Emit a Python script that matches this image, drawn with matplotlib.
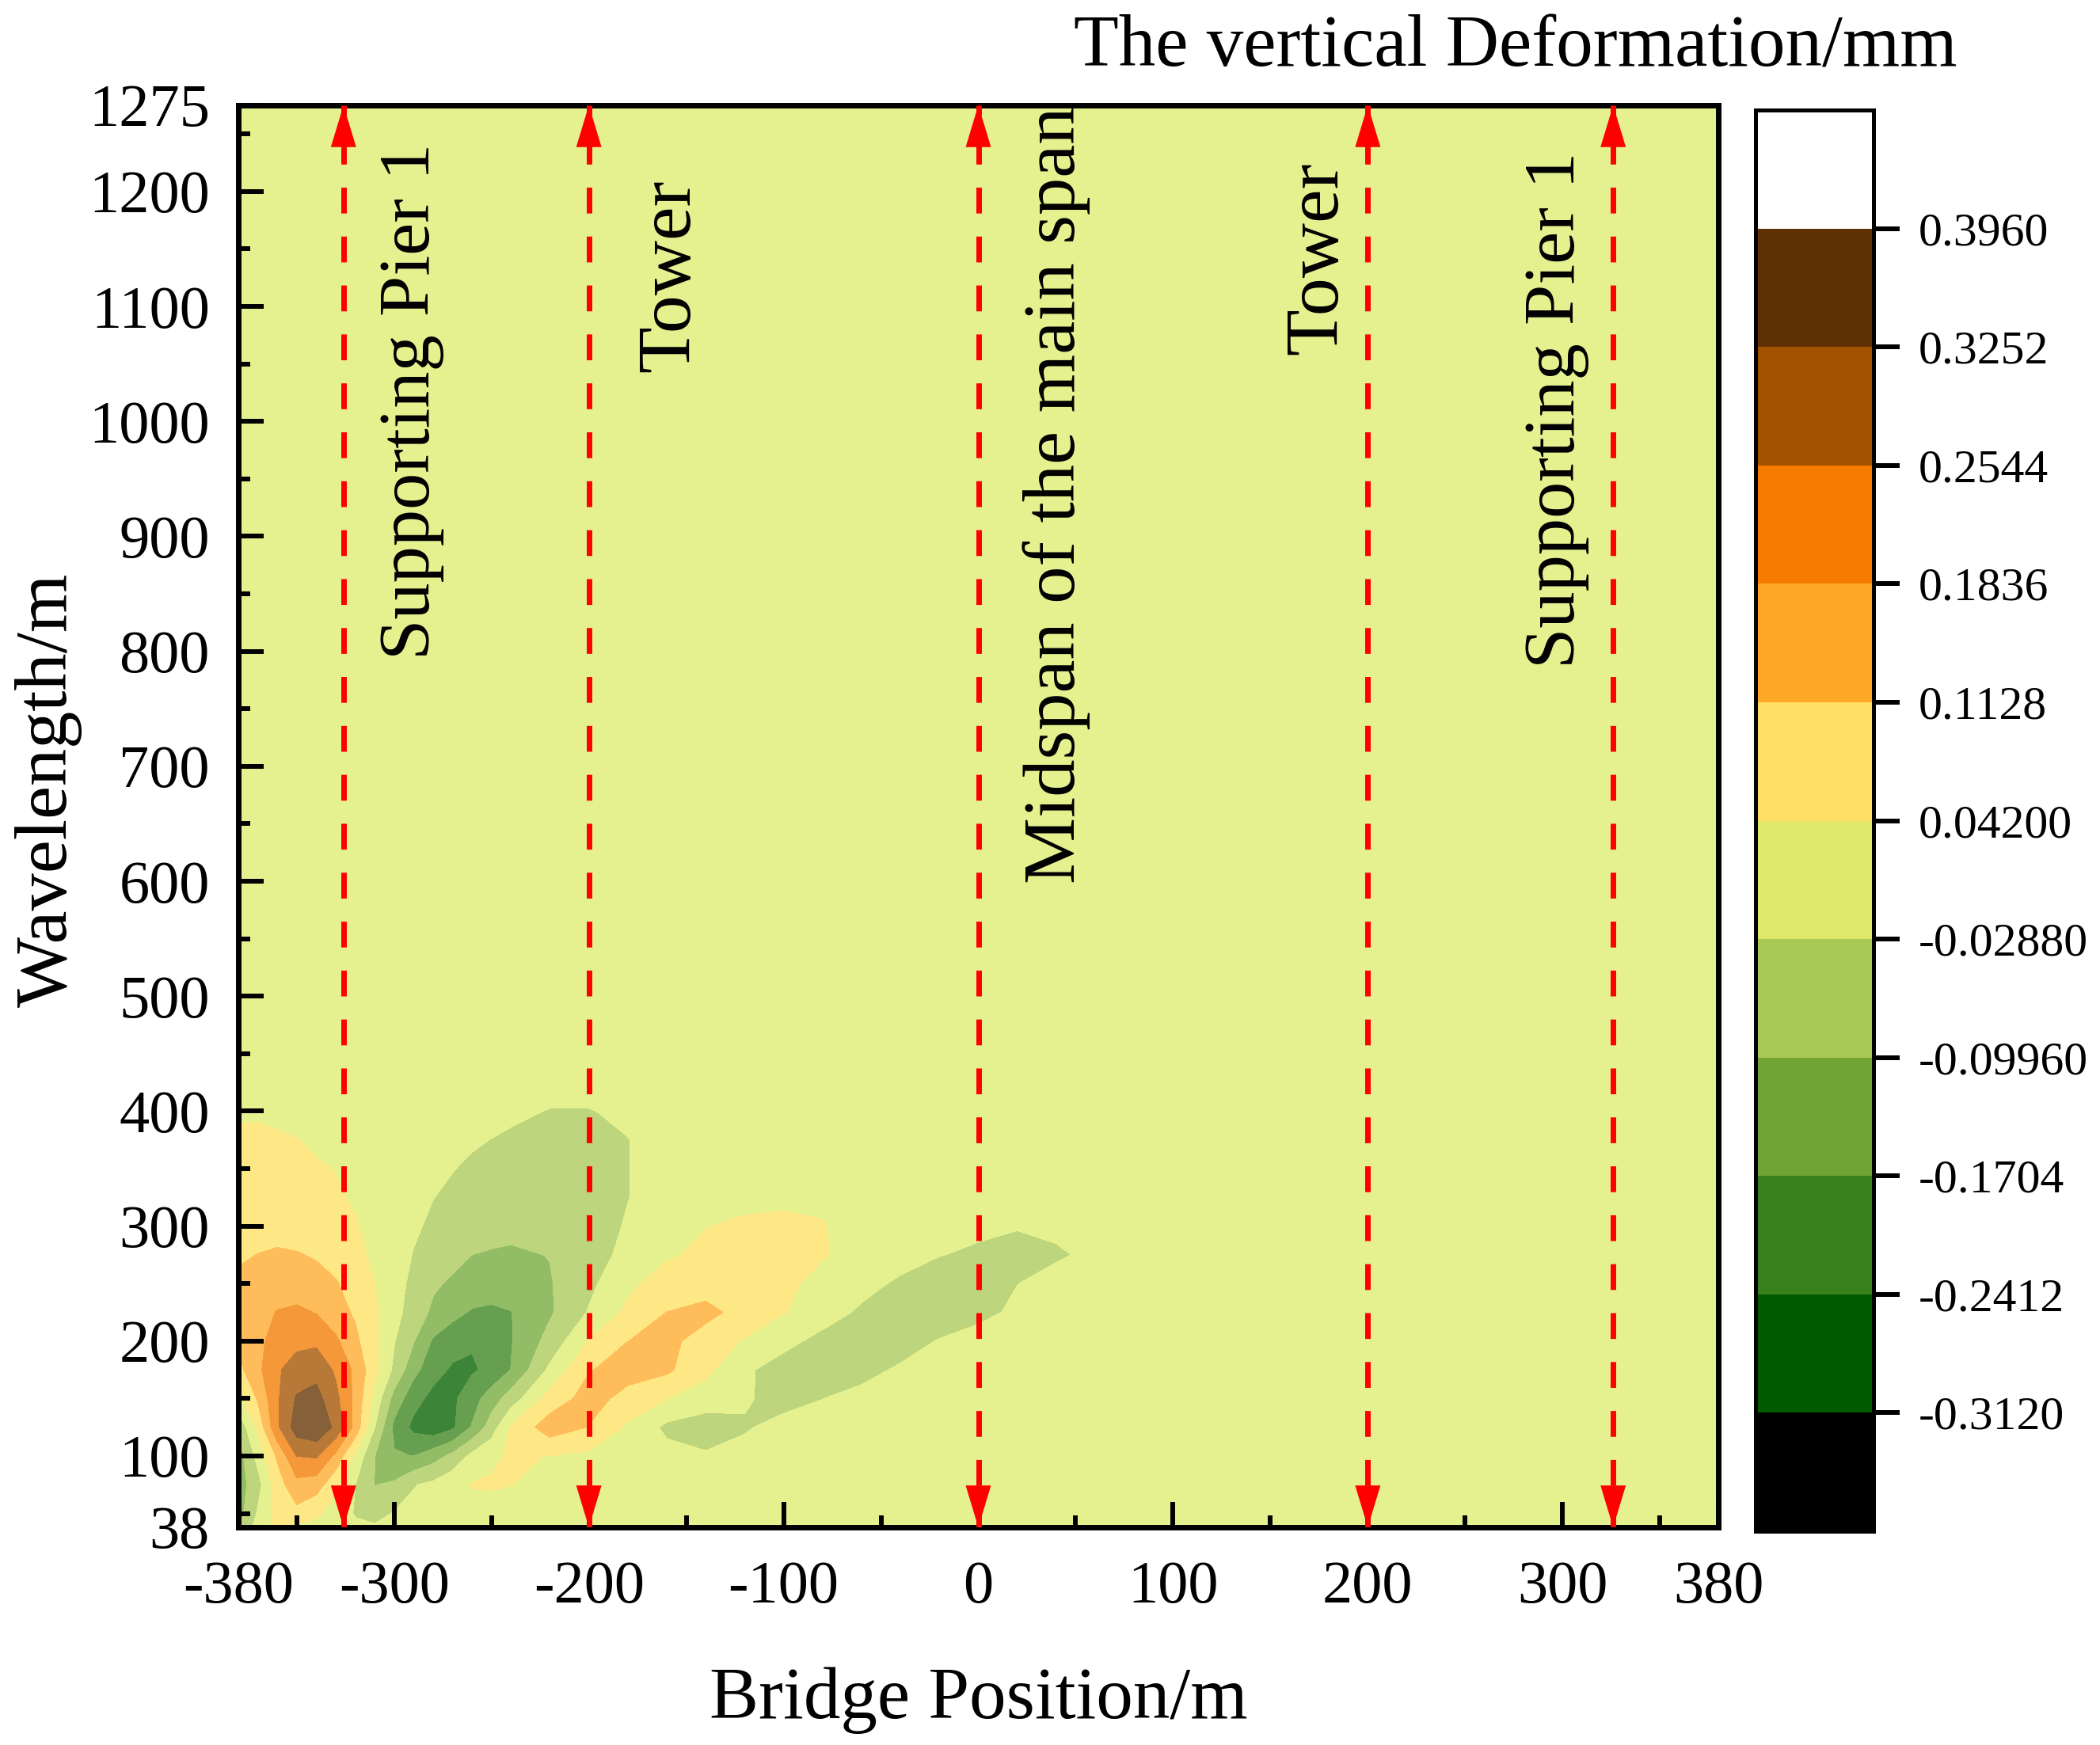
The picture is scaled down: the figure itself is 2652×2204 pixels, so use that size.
import numpy as np
import matplotlib
matplotlib.use("Agg")
import matplotlib.pyplot as plt
from matplotlib.colors import ListedColormap, BoundaryNorm
from matplotlib.cm import ScalarMappable

plt.rcParams['font.family'] = ['Liberation Serif', 'DejaVu Serif']

W, H = 2652, 2204

# bridge position of the table columns (m)
pos = [-380, -370, -360, -350, -340, -330, -320, -310, -300, -290, -280, -270, -260, -250, -240,
       -220, -200, -180, -160, -140, -120, -100, -80, -60, -40, -20, 0, 20, 40, 60, 380]
# wavelength of the table rows (m)
wavelength = [38, 50, 75, 100, 125, 150, 175, 200, 225, 250, 275, 300, 325, 350, 375, 400, 425, 1275]

# deformation, one list per wavelength
z38 = [-.11, 0, .06, .03, .02, .01, -.015, -.02, -.01, 0, 0, 0, 0, 0, 0,
       0, 0, 0, 0, 0, 0, 0, 0, 0, 0, 0, 0, 0, 0, 0, 0]
z50 = [-.13, -.022, .07, .09, .052, .012, -.035, -.055, -.025, -.01, 0, .015, .02, .01, .005,
       0, 0, 0, 0, 0, 0, 0, 0, 0, 0, 0, 0, 0, 0, 0, 0]
z75 = [-.135, -.057, .08, .16, .145, .056, -.029, -.102, -.09, -.033, -.015, .02, .045, .05, .043,
       .025, .01, 0, 0, 0, 0, 0, 0, 0, 0, 0, 0, 0, 0, 0, 0]
z100 = [-.135, -.007, .121, .254, .262, .164, .024, -.0996, -.164, -.172, -.132, -.082, -.012, .028, .05,
        .04, .025, .015, -.005, -.02, -.01, 0, 0, 0, 0, 0, 0, 0, 0, 0, 0]
z125 = [-.09, .058, .239, .36, .385, .307, .157, -.029, -.19, -.26, -.29, -.255, -.165, -.067, .05,
        .15, .109, .03, -.045, -.07, -.035, -.01, 0, 0, 0, 0, 0, 0, 0, 0, 0]
z150 = [.02, .118, .244, .332, .35, .272, .163, .018, -.128, -.217, -.262, -.255, -.202, -.135, -.068,
        .07, .14, .089, .042, .01, -.022, -.05, -.03, -.01, 0, 0, 0, 0, 0, 0, 0]
z175 = [.09, .166, .245, .285, .30, .243, .168, .062, -.045, -.149, -.216, -.252, -.25, -.225, -.17,
        -.015, .108, .14, .125, .058, -.018, -.06, -.075, -.05, -.02, 0, 0, 0, 0, 0, 0]
z200 = [.125, .17, .205, .235, .24, .195, .128, .056, -.026, -.097, -.18, -.21, -.235, -.225, -.175,
        -.076, .045, .112, .13, .084, .035, -.009, -.05, -.075, -.06, -.025, 0, 0, 0, 0, 0]
z225 = [.14, .16, .186, .195, .18, .14, .103, .052, -.005, -.063, -.113, -.152, -.178, -.185, -.173,
        -.109, -.024, .056, .113, .13, .09, .045, .002, -.04, -.07, -.075, -.05, -.015, 0, 0, 0]
z250 = [.13, .14, .15, .15, .14, .118, .08, .042, -.002, -.047, -.09, -.11, -.125, -.135, -.13,
        -.105, -.046, .027, .07, .085, .08, .055, .024, -.008, -.04, -.065, -.06, -.03, -.01, 0, 0]
z275 = [.10, .114, .122, .117, .105, .085, .055, .032, 0, -.032, -.055, -.08, -.10, -.105, -.108,
        -.098, -.056, -.012, .034, .055, .06, .055, .046, .023, -.003, -.027, -.04, -.045, -.036, -.018, 0]
z300 = [.07, .08, .085, .08, .07, .058, .045, .03, .012, -.02, -.04, -.055, -.07, -.08, -.085,
        -.075, -.05, -.025, .01, .04, .052, .05, .044, .025, .01, 0, -.015, -.026, -.018, 0, 0]
z325 = [.06, .065, .065, .06, .052, .046, .038, .025, .01, -.005, -.028, -.04, -.05, -.055, -.06,
        -.06, -.05, -.03, -.01, .01, .025, .035, .035, .02, .01, 0, 0, 0, 0, 0, 0]
z350 = [.052, .056, .055, .05, .046, .041, .03, .02, .01, 0, -.015, -.027, -.038, -.045, -.05,
        -.05, -.045, -.03, -.012, 0, 0, 0, 0, 0, 0, 0, 0, 0, 0, 0, 0]
z375 = [.05, .05, .047, .043, .035, .025, .015, .01, .005, 0, -.005, -.012, -.022, -.03, -.036,
        -.042, -.04, -.03, -.012, 0, 0, 0, 0, 0, 0, 0, 0, 0, 0, 0, 0]
z400 = [.037, .037, .033, .02, .015, .01, .005, 0, 0, 0, 0, 0, -.005, -.01, -.02,
        -.031, -.031, -.02, -.005, 0, 0, 0, 0, 0, 0, 0, 0, 0, 0, 0, 0]
z425 = [0, 0, 0, 0, 0, 0, 0, 0, 0, 0, 0, 0, 0, 0, -.005,
        -.01, -.01, -.005, 0, 0, 0, 0, 0, 0, 0, 0, 0, 0, 0, 0, 0]
z1275 = [0] * 31

levels = [-0.3120, -0.2412, -0.1704, -0.0996, -0.0288, 0.0420, 0.1128, 0.1836, 0.2544, 0.3252, 0.3960]
level_labels = ['-0.3120', '-0.2412', '-0.1704', '-0.09960', '-0.02880', '0.04200',
                '0.1128', '0.1836', '0.2544', '0.3252', '0.3960']
bar_colors = ['#005a00', '#38801c', '#70a536', '#a8c956', '#e0e86a', '#ffdf66',
              '#ffa726', '#f57c00', '#a35200', '#5f3003']
# the map itself is drawn half see-through, so its bands are paler than the bar
map_colors = ['#3b8438', '#669f50', '#93bc66', '#bdd57c', '#e5f08f', '#fee885',
              '#ffbc5a', '#f5983a', '#b87838', '#856038']

x_ticks = [-380, -300, -200, -100, 0, 100, 200, 300, 380]
x_minor = [-350, -250, -150, -50, 50, 150, 250, 350]
y_ticks = [38, 100, 200, 300, 400, 500, 600, 700, 800, 900, 1000, 1100, 1200, 1275]
y_minor = [50, 150, 250, 350, 450, 550, 650, 750, 850, 950, 1050, 1150, 1250]

arrow_x = [-326, -200, 0, 200, 326]
notes = ['Supporting Pier 1', 'Tower', 'Midspan of the main span', 'Tower', 'Supporting Pier 1']
note_x = [-291, -158, 40, 174.5, 297]
note_y = [793, 1043, 598, 1058, 785]
note_size = [66.5, 69, 68, 69, 66.5]

Z = np.array([z38, z50, z75, z100, z125, z150, z175, z200, z225, z250, z275, z300,
              z325, z350, z375, z400, z425, z1275])

fig = plt.figure(figsize=(W / 100, H / 100), dpi=100)
ax = fig.add_axes([301 / W, 1 - 1929 / H, 1869 / W, 1796 / H])

cs = ax.contourf(pos, wavelength, Z, levels=levels, colors=map_colors, zorder=1)
cs.set_edgecolor('face')
cs.set_linewidth(0.5)

ax.set_xlim(-380, 380)
ax.set_ylim(38, 1275)
ax.set_xticks(x_ticks)
ax.set_xticks(x_minor, minor=True)
ax.set_yticks(y_ticks)
ax.set_yticks(y_minor, minor=True)
ax.set_xticklabels([str(v) for v in x_ticks])
ax.set_yticklabels([str(v) for v in y_ticks])
ax.set_axisbelow(False)
ax.tick_params(which='major', direction='in', length=23, width=4.3, labelsize=55)
ax.tick_params(which='minor', direction='in', length=11, width=4.3)
ax.tick_params(axis='x', which='major', pad=30)
ax.tick_params(axis='y', which='major', pad=26)
for s in ax.spines.values():
    s.set_linewidth(5)

for x in arrow_x:
    ax.plot([x, x], [1275, 38], color='red', lw=5, zorder=3,
            linestyle=(2.9, (4.7, 4.2)))
    for tip, tail in ((1275, 1100), (38, 200)):
        ax.annotate('', xy=(x, tip), xytext=(x, tail), annotation_clip=False, zorder=5,
                    arrowprops=dict(arrowstyle='-|>,head_length=3.8,head_width=1.15',
                                    mutation_scale=10, lw=0, color='red',
                                    shrinkA=0, shrinkB=0))

for t, x, y, s in zip(notes, note_x, note_y, note_size):
    ax.text(x, y, t, rotation=90, ha='center', va='bottom', fontsize=s, zorder=6)

fig.text(731 * 1.691 / W, 1 - 1270 * 1.691 / H, 'Bridge Position/m', ha='center', va='center', fontsize=67)
fig.text(36 * 1.691 / W, 1 - 590 * 1.691 / H, 'Wavelength/m', rotation=90, ha='center', va='center', fontsize=68)
fig.text(1132 * 1.691 / W, 1 - 61 / H, 'The vertical Deformation/mm', ha='center', va='center', fontsize=67)

# colour bar
cax = fig.add_axes([2217 / W, 1 - 1934 / H, 149 / W, 1795 / H])
cmap = ListedColormap(bar_colors)
cmap.set_under('black')
cmap.set_over('white')
norm = BoundaryNorm(levels, cmap.N)
cb = fig.colorbar(ScalarMappable(norm=norm, cmap=cmap), cax=cax, extend='both',
                  extendrect=True, extendfrac='auto', spacing='uniform', drawedges=False)
cb.set_ticks(levels, labels=level_labels)
cb.minorticks_off()
cb.ax.tick_params(length=24, width=4.3, labelsize=43, pad=17)
cb.outline.set_linewidth(3.6)

plt.savefig('out.png', dpi=100)
